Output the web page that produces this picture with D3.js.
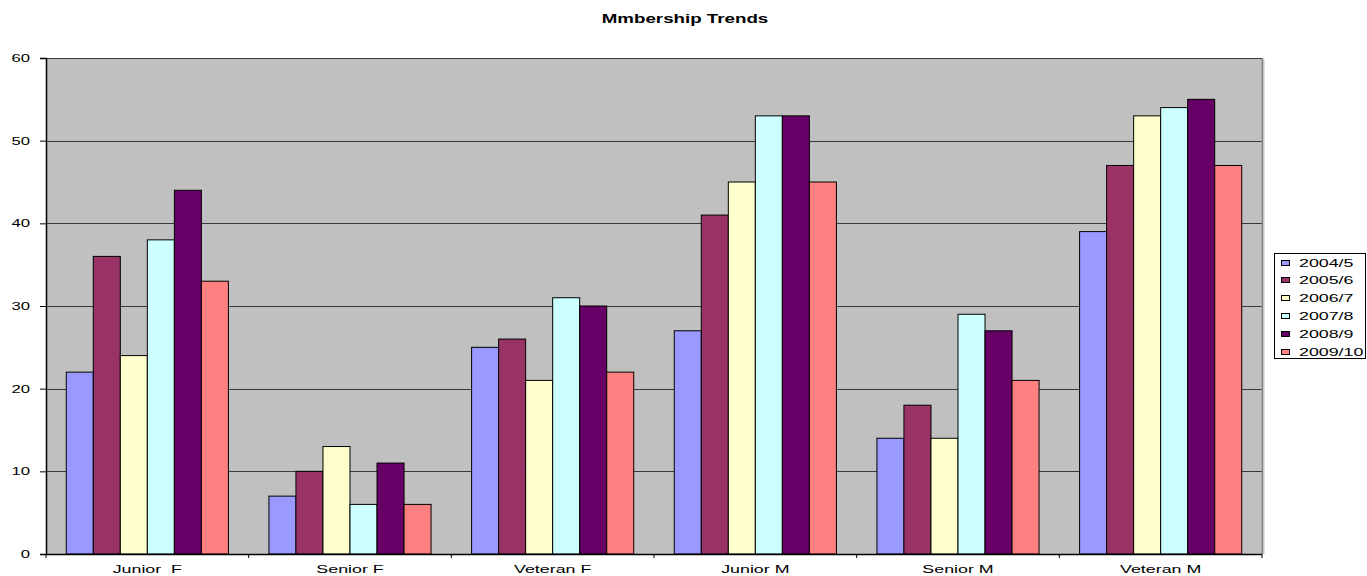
<!DOCTYPE html>
<html>
<head>
<meta charset="utf-8">
<script src="https://cdn.jsdelivr.net/npm/d3@7"></script>
<style>
  html, body { margin: 0; padding: 0; background: #fff; }
  svg { display: block; }
  text { font-family: "Liberation Sans", Arial, sans-serif; fill: #000; }
</style>
</head>
<body>
<svg id="chart" width="1367" height="576"></svg>
<script>
// Membership counts per category and season
const categories = ["Junior  F", "Senior F", "Veteran F", "Junior M", "Senior M", "Veteran M"];
const seasons = ["2004/5", "2005/6", "2006/7", "2007/8", "2008/9", "2009/10"];
const colors = ["#9999FF", "#993366", "#FFFFCC", "#CCFFFF", "#660066", "#FF8080"];
const v2004 = [22, 7, 25, 27, 14, 39];
const v2005 = [36, 10, 26, 41, 18, 47];
const v2006 = [24, 13, 21, 45, 14, 53];
const v2007 = [38, 6, 31, 53, 29, 54];
const v2008 = [44, 11, 30, 53, 27, 55];
const v2009 = [33, 6, 22, 45, 21, 47];
const yTicks = [0, 10, 20, 30, 40, 50, 60];
const title = "Mmbership Trends";

const seriesValues = [v2004, v2005, v2006, v2007, v2008, v2009];

const svg = d3.select("#chart");
const plot = { left: 46, right: 1262, top: 58, bottom: 554 };

// Text helper: glyphs are drawn horizontally widened
function label(g, x, y, str, size, anchor, weight, stretch) {
  return g.append("text")
    .attr("transform", `translate(${x},${y}) scale(${stretch || 1.55},1)`)
    .attr("text-anchor", anchor)
    .attr("font-size", size)
    .attr("font-weight", weight || "normal")
    .style("white-space", "pre")
    .text(str);
}

const x0 = d3.scaleBand().domain(categories)
  .range([plot.left, plot.right]).paddingInner(0.2).paddingOuter(0.1);
const x1 = d3.scaleBand().domain(seasons).range([0, x0.bandwidth()]);
const y = d3.scaleLinear().domain([0, 60]).range([plot.bottom, plot.top]);

// Plot background
svg.append("rect")
  .attr("x", plot.left).attr("y", plot.top)
  .attr("width", plot.right - plot.left).attr("height", plot.bottom - plot.top)
  .attr("fill", "#C0C0C0");

// Slight shadow to the right of the plot
svg.append("line")
  .attr("x1", plot.right + 2).attr("x2", plot.right + 2)
  .attr("y1", plot.top + 1).attr("y2", plot.bottom)
  .attr("stroke", "#e0e0e0").attr("stroke-width", 2);

// Gridlines
svg.append("g").selectAll("line").data(yTicks.filter(d => d > 0)).join("line")
  .attr("x1", plot.left).attr("x2", plot.right)
  .attr("y1", d => Math.round(y(d)) + 0.5).attr("y2", d => Math.round(y(d)) + 0.5)
  .attr("stroke", "#3a3a3a").attr("stroke-width", 1);

// Right border
svg.append("line")
  .attr("x1", plot.right + 0.5).attr("x2", plot.right + 0.5)
  .attr("y1", plot.top).attr("y2", plot.bottom)
  .attr("stroke", "#808080").attr("stroke-width", 1.5);

// Bars
const groups = svg.append("g").selectAll("g").data(categories).join("g")
  .attr("transform", d => `translate(${x0(d)},0)`);
groups.selectAll("rect")
  .data((c, ci) => seasons.map((s, si) => ({ s, si, v: seriesValues[si][ci] })))
  .join("rect")
  .attr("x", d => x1(d.s))
  .attr("y", d => y(d.v))
  .attr("width", x1.bandwidth())
  .attr("height", d => y(0) - y(d.v))
  .attr("fill", d => colors[d.si])
  .attr("stroke", "#000").attr("stroke-width", 1);

// Y axis
const yAxis = svg.append("g")
  .attr("transform", `translate(${plot.left},0)`)
  .call(d3.axisLeft(y).tickValues(yTicks).tickSize(6).tickFormat(""));
yAxis.select(".domain").attr("stroke", "#000").attr("stroke-width", 1.5);
yAxis.selectAll(".tick line").attr("stroke", "#000");
yTicks.forEach(t => label(svg, 30, y(t) + 4, String(t), 11.5, "end", "normal", 1.45));

// X axis with ticks between categories
const step = x0.step();
const boundaries = d3.range(categories.length + 1).map(i => plot.left + i * step);
svg.append("line")
  .attr("x1", plot.left).attr("x2", plot.right)
  .attr("y1", plot.bottom + 0.5).attr("y2", plot.bottom + 0.5)
  .attr("stroke", "#000").attr("stroke-width", 1.5);
svg.append("g").selectAll("line").data(boundaries).join("line")
  .attr("x1", d => d).attr("x2", d => d)
  .attr("y1", plot.bottom).attr("y2", plot.bottom + 4)
  .attr("stroke", "#000");
categories.forEach(c => label(svg, x0(c) + x0.bandwidth() / 2, 573, c, 11.5, "middle"));

// Title
label(svg, 685, 23, title, 12.5, "middle", "bold", 1.5);

// Legend
const legend = svg.append("g");
legend.append("rect")
  .attr("x", 1274.5).attr("y", 253.5).attr("width", 91).attr("height", 105)
  .attr("fill", "#fff").attr("stroke", "#000").attr("stroke-width", 1);
seasons.forEach((s, i) => {
  const cy = 262.5 + i * 17.8;
  legend.append("rect")
    .attr("x", 1281.5).attr("y", Math.round(cy - 3) + 0.5).attr("width", 8).attr("height", 5)
    .attr("fill", colors[i]).attr("stroke", "#000").attr("stroke-width", 1);
  label(legend, 1299, cy + 4, s, 11.5, "start");
});
</script>
</body>
</html>
